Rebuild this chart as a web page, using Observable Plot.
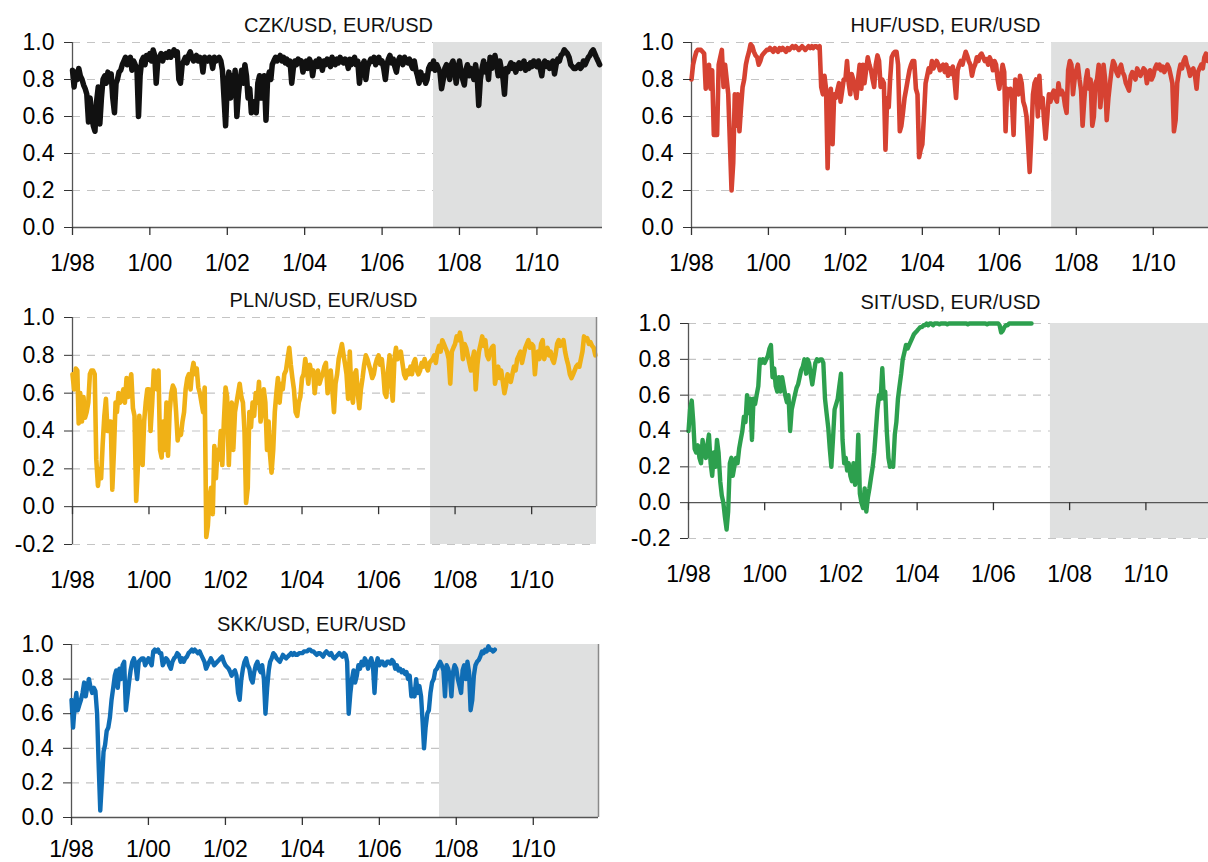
<!DOCTYPE html>
<html><head><meta charset="utf-8">
<script src="https://cdn.jsdelivr.net/npm/d3@7"></script>
<script src="https://cdn.jsdelivr.net/npm/@observablehq/plot@0.6"></script>
<style>
html,body{margin:0;padding:0;background:#fff;overflow:hidden;}
#wrap{position:relative;width:1208px;height:862px;overflow:hidden;background:#fff;}
#wrap svg{position:absolute;overflow:visible;}
</style></head><body><div id="wrap"></div>
<script>
// ---- data (semi-monthly samples: 1st and 16th of each month from Jan 1998) ----
const xTickDates = ["1998-01-01","2000-01-01","2002-01-01","2004-01-01","2006-01-01","2008-01-01","2010-01-01"];
const xTickLabels = ["1/98","1/00","1/02","1/04","1/06","1/08","1/10"];
const xDomain = ["1998-01-01","2011-09-12"];
const yTicksPos = [0, 0.2, 0.4, 0.6, 0.8, 1.0];
const yTicksNeg = [-0.2, 0, 0.2, 0.4, 0.6, 0.8, 1.0];

const czkValues = [
.85,.76,.84,.80,.86,.82,.80,.77,.75,.72,.57,.70,.62,.55,.52,.68,.76,.56,.70,.80,.82,.78,.84,.80,
.83,.70,.62,.78,.80,.84,.85,.88,.90,.92,.88,.91,.92,.85,.90,.88,.86,.60,.82,.90,.92,.88,.93,.91,
.94,.90,.96,.93,.78,.90,.92,.94,.90,.93,.94,.92,.95,.92,.94,.96,.93,.95,.80,.78,.88,.90,.92,.89,
.93,.95,.92,.90,.91,.93,.90,.92,.91,.84,.92,.91,.90,.92,.91,.86,.92,.90,.91,.92,.90,.85,.70,.55,
.78,.84,.70,.82,.75,.85,.60,.72,.80,.85,.78,.88,.82,.70,.75,.62,.68,.65,.62,.78,.82,.70,.76,.82,
.58,.80,.84,.80,.88,.90,.92,.90,.91,.93,.90,.92,.89,.91,.88,.90,.78,.86,.90,.88,.91,.89,.90,.84,
.88,.90,.86,.91,.89,.82,.88,.90,.87,.91,.89,.85,.90,.88,.91,.89,.87,.92,.90,.88,.91,.89,.92,.90,
.89,.91,.90,.86,.91,.88,.90,.92,.88,.90,.78,.85,.88,.90,.80,.87,.89,.91,.90,.92,.88,.91,.92,.89,
.90,.86,.80,.88,.91,.93,.89,.91,.87,.84,.90,.92,.91,.88,.92,.90,.89,.91,.88,.86,.90,.85,.82,.78,
.84,.80,.82,.78,.80,.86,.88,.86,.90,.85,.88,.86,.84,.75,.80,.86,.88,.84,.80,.88,.90,.86,.78,.85,
.90,.84,.80,.77,.85,.88,.82,.86,.84,.80,.88,.82,.66,.80,.86,.90,.84,.88,.80,.92,.86,.90,.93,.88,
.82,.90,.85,.80,.72,.86,.84,.87,.89,.86,.88,.84,.87,.89,.86,.88,.90,.85,.88,.86,.89,.87,.90,.88,
.87,.90,.86,.82,.88,.90,.87,.89,.86,.88,.90,.83,.88,.91,.90,.93,.94,.96,.95,.94,.92,.88,.87,.86,
.86,.87,.88,.86,.87,.90,.88,.90,.92,.93,.95,.96,.94,.92,.90,.88];

const hufValues = [
.80,.88,.92,.95,.96,.96,.96,.95,.94,.75,.80,.88,.75,.85,.50,.50,.50,.88,.92,.96,.76,.88,.80,.72,
.45,.20,.35,.72,.55,.72,.52,.65,.76,.80,.88,.92,.95,.99,.98,.95,.93,.92,.88,.90,.93,.94,.95,.96,
.96,.97,.96,.95,.97,.96,.95,.97,.96,.97,.96,.95,.97,.96,.97,.98,.97,.98,.97,.96,.97,.98,.97,.96,
.97,.98,.97,.98,.97,.98,.98,.97,.98,.76,.72,.82,.75,.32,.70,.75,.45,.72,.70,.74,.78,.68,.74,.80,
.80,.90,.78,.72,.83,.80,.75,.70,.80,.88,.75,.88,.78,.85,.92,.88,.85,.80,.76,.88,.93,.90,.76,.80,
.78,.42,.70,.65,.80,.92,.94,.95,.95,.88,.52,.55,.62,.70,.75,.80,.85,.88,.90,.90,.75,.72,.38,.42,
.45,.60,.78,.82,.86,.84,.90,.86,.88,.90,.88,.85,.87,.88,.84,.88,.82,.86,.83,.87,.80,.70,.85,.88,
.90,.88,.92,.95,.93,.90,.88,.82,.86,.88,.92,.90,.93,.94,.92,.90,.91,.88,.92,.90,.85,.90,.88,.80,
.75,.82,.88,.84,.52,.75,.72,.75,.68,.50,.80,.74,.72,.82,.78,.68,.65,.60,.45,.30,.50,.72,.78,.80,
.60,.82,.65,.70,.58,.48,.60,.72,.68,.72,.74,.70,.68,.78,.72,.74,.72,.66,.62,.85,.90,.88,.72,.80,
.85,.88,.80,.74,.55,.68,.80,.85,.75,.80,.55,.60,.78,.80,.88,.65,.75,.88,.80,.58,.70,.78,.85,.90,
.88,.84,.82,.86,.88,.84,.82,.78,.76,.74,.82,.84,.82,.80,.86,.84,.82,.84,.86,.85,.78,.82,.85,.80,
.82,.86,.88,.86,.88,.85,.87,.84,.86,.88,.86,.82,.78,.52,.58,.78,.84,.88,.86,.90,.92,.88,.86,.82,
.85,.86,.82,.75,.84,.86,.88,.86,.92,.94,.90,.92,.94,.90,.92,.90];

const plnValues = [
.70,.62,.73,.72,.44,.60,.45,.58,.47,.50,.55,.70,.72,.72,.70,.25,.11,.20,.15,.33,.48,.57,.40,.45,
.45,.09,.30,.55,.50,.60,.55,.58,.62,.55,.68,.58,.65,.70,.52,.48,.03,.20,.48,.35,.22,.45,.55,.62,
.62,.40,.55,.72,.70,.62,.72,.30,.26,.45,.30,.55,.27,.50,.60,.64,.62,.50,.35,.40,.38,.45,.50,.62,
.68,.70,.62,.72,.76,.70,.73,.63,.60,.55,.50,.63,-.16,-.10,.05,.10,-.04,.32,.15,.30,.25,.40,.22,.45,
.63,.58,.22,.45,.55,.30,.50,.55,.60,.65,.58,.55,.40,.02,.10,.50,.42,.55,.48,.60,.55,.66,.45,.50,
.62,.55,.30,.45,.28,.18,.30,.50,.60,.68,.55,.65,.62,.70,.72,.78,.84,.75,.68,.62,.50,.48,.55,.58,
.68,.70,.78,.72,.65,.75,.70,.72,.60,.68,.72,.65,.68,.70,.74,.76,.60,.68,.72,.62,.50,.65,.70,.78,
.82,.86,.80,.75,.70,.57,.82,.60,.55,.70,.72,.60,.52,.62,.68,.75,.80,.78,.75,.72,.68,.70,.75,.78,
.80,.75,.78,.70,.60,.58,.72,.80,.65,.56,.78,.84,.78,.80,.82,.76,.70,.68,.72,.70,.74,.70,.76,.78,
.72,.70,.72,.76,.74,.78,.74,.72,.76,.77,.78,.80,.76,.82,.85,.82,.88,.86,.84,.82,.78,.65,.82,.84,
.86,.90,.88,.92,.88,.78,.86,.84,.80,.76,.72,.78,.82,.62,.75,.82,.86,.90,.85,.88,.80,.78,.82,.84,
.85,.65,.70,.74,.68,.72,.66,.60,.64,.70,.68,.66,.70,.74,.72,.78,.80,.82,.76,.80,.84,.86,.88,.84,
.86,.85,.70,.80,.82,.78,.86,.88,.78,.82,.84,.80,.82,.78,.76,.80,.86,.88,.85,.86,.88,.82,.78,.75,
.70,.68,.70,.72,.74,.75,.74,.78,.82,.90,.88,.89,.86,.87,.85,.84,.80];

const sitValues = [
.40,.52,.57,.45,.30,.28,.32,.25,.22,.35,.28,.25,.32,.38,.22,.15,.28,.20,.35,.28,.12,.04,.00,-.08,
-.15,-.05,.22,.25,.15,.20,.25,.22,.30,.35,.40,.48,.45,.60,.50,.58,.35,.58,.55,.60,.65,.80,.78,.80,
.78,.80,.82,.86,.88,.70,.75,.65,.62,.70,.62,.70,.65,.60,.56,.60,.40,.52,.56,.60,.64,.66,.70,.74,
.76,.80,.72,.80,.78,.72,.66,.72,.78,.80,.79,.80,.80,.78,.58,.50,.42,.30,.20,.35,.52,.55,.58,.65,
.72,.35,.22,.25,.18,.22,.15,.12,.22,.10,.15,.38,.05,.00,-.03,.08,-.05,.03,.08,.14,.20,.28,.40,.52,
.60,.58,.75,.58,.62,.40,.25,.20,.22,.20,.38,.45,.58,.65,.72,.80,.84,.88,.86,.88,.90,.92,.94,.95,
.96,.97,.98,.98,.99,.99,1,.99,1,1,.99,1,1,1,.995,1,1,1,1,.995,1,1,1,1,
1,1,1,1,1,1,1,1,.995,1,1,1,1,1,1,1,1,1,1,1,.995,1,1,1,
1,1,1,1,.99,.95,.96,.98,.99,.99,1,1,1,1,1,1,1,1,1,1,1,1,1,1,
1];

const skkValues = [
.68,.52,.65,.72,.62,.65,.68,.72,.78,.70,.76,.80,.75,.72,.75,.73,.60,.30,.04,.20,.38,.42,.50,.52,
.58,.68,.75,.82,.85,.75,.86,.80,.88,.90,.62,.70,.78,.85,.90,.92,.88,.80,.90,.91,.92,.92,.88,.90,
.92,.90,.88,.96,.97,.96,.97,.95,.95,.88,.90,.92,.91,.88,.86,.90,.92,.93,.95,.94,.90,.92,.90,.92,
.93,.95,.96,.97,.96,.97,.96,.95,.96,.94,.92,.90,.86,.88,.90,.92,.90,.88,.89,.90,.91,.92,.93,.90,
.88,.87,.86,.84,.82,.84,.85,.82,.72,.68,.80,.86,.90,.92,.88,.86,.80,.78,.84,.88,.90,.86,.84,.88,
.80,.60,.75,.85,.90,.92,.95,.94,.92,.91,.90,.92,.94,.93,.92,.93,.94,.95,.94,.95,.94,.94,.95,.95,
.95,.96,.96,.96,.97,.97,.96,.96,.95,.94,.95,.95,.94,.93,.95,.96,.95,.94,.95,.93,.92,.93,.94,.95,
.94,.93,.95,.94,.90,.60,.72,.80,.85,.78,.82,.88,.86,.90,.88,.92,.90,.86,.90,.92,.88,.72,.88,.92,
.88,.90,.90,.88,.88,.90,.90,.89,.91,.90,.86,.88,.85,.86,.84,.85,.83,.84,.80,.82,.70,.74,.70,.80,
.72,.76,.70,.55,.40,.52,.60,.62,.72,.78,.80,.85,.86,.88,.90,.88,.85,.70,.88,.86,.82,.70,.84,.88,
.86,.80,.76,.72,.85,.88,.80,.90,.84,.62,.68,.82,.88,.90,.91,.93,.96,.95,.97,.96,.99,.97,.97,.96,
.97];

const series = [
  {key:"czk", title:"CZK/USD, EUR/USD", values:czkValues, yMin:0, shadeStart:"2007-05-01", color:"#111111", sw:5.5},
  {key:"huf", title:"HUF/USD, EUR/USD", values:hufValues, yMin:0, shadeStart:"2007-05-12", color:"#d64232", sw:4.6},
  {key:"pln", title:"PLN/USD, EUR/USD", values:plnValues, yMin:-0.2, shadeStart:"2007-05-12", color:"#f0b116", sw:4.6},
  {key:"sit", title:"SIT/USD, EUR/USD", values:sitValues, yMin:-0.2, shadeStart:"2007-07-01", color:"#2da04e", sw:4.4},
  {key:"skk", title:"SKK/USD, EUR/USD", values:skkValues, yMin:0, shadeStart:"2007-07-26", color:"#0f6db5", sw:4.4}
];

// ---- layout (pixels) ----
const layout = {
  czk: {left:0,   top:0,   ml:72, mt:42, pw:530, ph:185, titleBase:31,  titleX:338, rightLine:false, pad:27},
  huf: {left:620, top:0,   ml:71, mt:42, pw:527, ph:185, titleBase:31,  titleX:945, rightLine:false, pad:27},
  pln: {left:0,   top:270, ml:72, mt:47, pw:524, ph:227, titleBase:306, titleX:323, rightLine:true,  pad:27},
  sit: {left:620, top:270, ml:68, mt:53, pw:522, ph:215, titleBase:308, titleX:950, rightLine:false, pad:27},
  skk: {left:0,   top:590, ml:71, mt:54, pw:527, ph:173, titleBase:630, titleX:311, rightLine:true,  pad:23}
};
const MB = 60, MR = 12;
const FONT = "'Liberation Sans', Arial, Helvetica, sans-serif";

const parse = d3.utcParse("%Y-%m-%d");
const tickDates = xTickDates.map(parse);
const labelFor = d => xTickLabels[tickDates.findIndex(t => +t === +d)];
const xDom = xDomain.map(parse);

function semiMonthly(values) {
  return values.map((v, i) => ({
    date: new Date(Date.UTC(1998 + Math.floor(i / 24), Math.floor((i % 24) / 2), i % 2 ? 16 : 1)),
    value: v
  }));
}

const wrap = document.getElementById("wrap");
for (const s of series) {
  const L = layout[s.key];
  const data = semiMonthly(s.values);
  const yTicks = s.yMin < 0 ? yTicksNeg : yTicksPos;
  const grid = yTicks.filter(t => t !== 0);
  const shade = [{x1: parse(s.shadeStart), x2: xDom[1], y1: s.yMin, y2: 1}];
  const marks = [
    Plot.ruleY(grid, {stroke:"#c4c4c4", strokeWidth:1.2, strokeDasharray:"8,7"}),
    Plot.rect(shade, {x1:"x1", x2:"x2", y1:"y1", y2:"y2", fill:"#dfe0e0"}),
    Plot.ruleY([0], {stroke:"#555", strokeWidth:1.3}),
    Plot.ruleX([xDom[0]], {y1:s.yMin, y2:1, stroke:"#555", strokeWidth:1.3}),
    Plot.ruleX(tickDates, {x:d => d, y1:0, y2:0, insetBottom:-8, stroke:"#333", strokeWidth:1.3}),
    Plot.line(data, {x:"date", y:"value", stroke:s.color, strokeWidth:s.sw, strokeLinejoin:"round", strokeLinecap:"round"}),
    Plot.axisY({ticks:yTicks, tickSize:8, tickPadding:10, tickFormat:d => d.toFixed(1), fontSize:23, stroke:"#333"}),
    Plot.axisX({ticks:tickDates, tickFormat:labelFor, tickSize:0, tickPadding:L.pad, fontSize:23, anchor:"bottom"}),
    Plot.text([s.title], {frameAnchor:"top-left", textAnchor:"middle", lineAnchor:"bottom",
      dx: L.titleX - L.left - L.ml, dy: L.titleBase - L.top - L.mt, fontSize:20, fill:"#111"})
  ];
  if (L.rightLine) marks.push(Plot.ruleX([xDom[1]], {y1: s.key === "pln" ? 0 : s.yMin, y2:1, stroke:"#8a8a8a", strokeWidth:1.5}));
  const chart = Plot.plot({
    width: L.ml + L.pw + MR,
    height: L.mt + L.ph + MB,
    marginLeft: L.ml, marginRight: MR, marginTop: L.mt, marginBottom: MB,
    x: {type:"utc", domain:xDom, axis:null},
    y: {domain:[s.yMin, 1], axis:null},
    style: {fontFamily: FONT, color:"#000", background:"transparent", overflow:"visible"},
    marks
  });
  chart.style.left = L.left + "px";
  chart.style.top = L.top + "px";
  wrap.appendChild(chart);
}
</script>
</body></html>
